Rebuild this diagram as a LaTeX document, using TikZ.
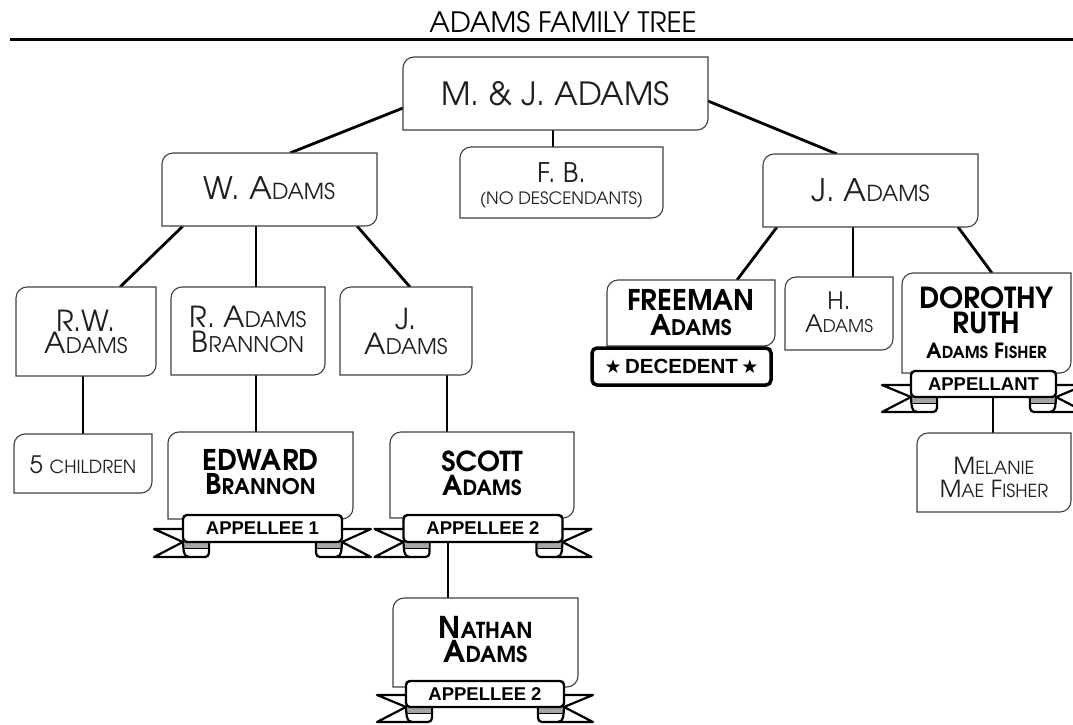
\documentclass[tikz,border=0pt]{standalone}
\usepackage{fontspec}
\newfontfamily\adv{texgyreadventor}[Extension=.otf,UprightFont=*-regular,BoldFont=*-bold]
\newfontfamily\lab{Liberation Sans}
\newfontfamily\dv{DejaVu Sans}
\usetikzlibrary{calc}
\pgfdeclarelayer{bg}\pgfdeclarelayer{mid}\pgfsetlayers{bg,mid,main}
\newcommand\fz[2]{\fontsize{#1}{#2}\selectfont}
\newcommand\sm[2]{{\fontsize{#1}{\baselineskip}\selectfont #2}}
\tikzset{
 boxn/.style={inner sep=0pt, outer sep=0pt},
 boxline/.style={draw=black!75, line width=1.1pt, fill=white},
 txt/.style={align=center, inner sep=0pt, text=black!88},
 btxt/.style={align=center, inner sep=0pt, text=black},
 conn/.style={line width=2.8pt, black},
 ban/.style={draw=black, line width=2.4pt, fill=white, rounded corners=4pt, inner sep=0pt, outer sep=0pt, font=\lab\bfseries\fz{18.5}{18.5}},
 wing/.style={draw=black, line width=2.2pt, fill=white, line join=round},
 fold/.style={draw=none, fill=black!35},
}
\newcommand\pbox[5]{\node[boxn, minimum width=#4pt, minimum height=#5pt] (#1) at (#2,-#3) {};
 \filldraw[boxline] (#1.south west) -- ([yshift=-11pt]#1.north west) arc[start angle=180, end angle=90, radius=11pt] -- (#1.north east) -- ([yshift=11pt]#1.south east) arc[start angle=0, end angle=-90, radius=11pt] -- cycle;}
\newcommand\wings[1]{\begin{pgfonlayer}{mid}
 \filldraw[wing] ([shift={(-29pt,-14pt)}]#1.north west) -- (#1.south west) -- ([shift={(-29pt,-15pt)}]#1.south west) -- ([shift={(22pt,-15pt)}]#1.south west) to[out=0,in=-90] ([shift={(26pt,-11pt)}]#1.south west) -- ([shift={(26pt,3pt)}]#1.south west) -- ([shift={(5pt,-14pt)}]#1.north west) -- cycle;
 \filldraw[wing] ([shift={(29pt,-14pt)}]#1.north east) -- (#1.south east) -- ([shift={(29pt,-15pt)}]#1.south east) -- ([shift={(-22pt,-15pt)}]#1.south east) to[out=180,in=-90] ([shift={(-26pt,-11pt)}]#1.south east) -- ([shift={(-26pt,3pt)}]#1.south east) -- ([shift={(-5pt,-14pt)}]#1.north east) -- cycle;
 \fill[fold] ([shift={(1pt,2pt)}]#1.south west) rectangle ([shift={(25pt,-6pt)}]#1.south west);
 \fill[fold] ([shift={(-1pt,2pt)}]#1.south east) rectangle ([shift={(-25pt,-6pt)}]#1.south east);
 \draw[wing,fill=none,line width=1pt] ([shift={(1pt,-6pt)}]#1.south west) -- ([shift={(25pt,-6pt)}]#1.south west);
 \draw[wing,fill=none,line width=1pt] ([shift={(-1pt,-6pt)}]#1.south east) -- ([shift={(-25pt,-6pt)}]#1.south east);
 \draw[wing,fill=none] (#1.south west) to[out=-85,in=180] ([shift={(6pt,-15pt)}]#1.south west);
 \draw[wing,fill=none] (#1.south east) to[out=-95,in=0] ([shift={(-6pt,-15pt)}]#1.south east);
 \end{pgfonlayer}}
\begin{document}
\begin{tikzpicture}[x=1pt,y=1pt]
\useasboundingbox (0,0) rectangle (1073,-725);
% title
\node[btxt, font=\adv\fz{28}{28}] (title) at (563,-22) {ADAMS FAMILY TREE};
\coordinate (r1) at (10,-40); \coordinate (r2) at (1073,-40);
\draw[line width=3pt] (r1) -- (r2);
% boxes
\pbox{mj}{555.5}{93.5}{305}{73}
\node[txt, font=\adv\fz{32}{32}] (mjT) at (555.5,-94) {M. \& J. ADAMS};
\pbox{w}{269.5}{189.5}{215}{73}
\node[txt, font=\adv\fz{31}{31}] (wT) at (269.5,-188.5) {W. A\sm{22}{DAMS}};
\pbox{fb}{561.5}{182.5}{203}{71}
\node[txt, font=\adv\fz{27}{22}] (fbT) at (561.5,-185.5) {F. B.\\\sm{17}{(NO DESCENDANTS)}};
\pbox{jr}{870.5}{190.5}{215}{73}
\node[txt, font=\adv\fz{31}{31}] (jrT) at (870.5,-190.5) {J. A\sm{22}{DAMS}};
\pbox{rw}{86}{331.5}{140}{89}
\node[txt, font=\adv\fz{29}{22.5}] (rwT) at (86,-332) {R.W.\\A\sm{21.5}{DAMS}};
\pbox{rb}{248}{331}{154}{88}
\node[txt, font=\adv\fz{29}{25}] (rbT) at (248,-329.5) {R. A\sm{21.5}{DAMS}\\B\sm{21.5}{RANNON}};
\pbox{jm}{406}{331}{132}{88}
\node[txt, font=\adv\fz{29}{25}] (jmT) at (406,-331) {J.\\A\sm{21.5}{DAMS}};
\pbox{cc}{83}{463.5}{138}{59}
\node[txt, font=\adv\fz{24}{24}] (ccT) at (83,-464.5) {5 \sm{18}{CHILDREN}};
\pbox{ed}{260.5}{475.5}{185}{87}
\node[btxt, font=\adv\bfseries\fz{28.5}{24}] (edT) at (260.5,-472.5) {EDWARD\\B\sm{21.5}{RANNON}};
\pbox{sc}{482}{475}{184}{86}
\node[btxt, font=\adv\bfseries\fz{27.5}{24}] (scT) at (482,-473) {SCOTT\\A\sm{21}{DAMS}};
\pbox{na}{485.5}{642.5}{185}{89}
\node[btxt, font=\adv\bfseries\fz{30}{24.5}] (naT) at (485.5,-639.5) {N\sm{22}{ATHAN}\\A\sm{22}{DAMS}};
\pbox{fr}{691}{313}{168}{66}
\node[btxt, font=\adv\bfseries\fz{28.5}{24.5}] (frT) at (691,-312.5) {FREEMAN\\A\sm{21.5}{DAMS}};
\pbox{h}{839}{313.5}{108}{73}
\node[txt, font=\adv\fz{24}{23}] (hT) at (839,-312.5) {H.\\A\sm{17.5}{DAMS}};
\pbox{do}{986.5}{323}{169}{100}
\node[btxt, font=\adv\bfseries\fz{29}{25}] (doT) at (986.5,-322.5) {DOROTHY\\RUTH\\\sm{21}{A\sm{16.5}{DAMS} F\sm{16.5}{ISHER}}};
\pbox{mel}{994}{472.5}{154}{79}
\node[txt, font=\adv\fz{23.5}{22.5}] (melT) at (994,-477.5) {M\sm{18}{ELANIE}\\M\sm{18}{AE} F\sm{18}{ISHER}};
% banners
\node[ban, minimum width=159pt, minimum height=27pt] (edB) at (262.5,-528.5) {APPELLEE 1};
\wings{edB}
\node[ban, minimum width=159pt, minimum height=27pt] (scB) at (483,-528.5) {APPELLEE 2};
\wings{scB}
\node[ban, minimum width=158pt, minimum height=26pt] (naB) at (485,-694) {APPELLEE 2};
\wings{naB}
\node[ban, minimum width=145pt, minimum height=26pt] (doB) at (983.5,-384) {APPELLANT};
\wings{doB}
\node[ban, line width=3.5pt, rounded corners=5pt, minimum width=179pt, minimum height=37pt, font=\lab\bfseries\fz{20.5}{20.5}] (dec) at (681.5,-366.5) {{\dv\fz{19}{19}★}\,DECEDENT\,{\dv\fz{19}{19}★}};
% connectors
\begin{pgfonlayer}{bg}
\draw[conn] ([xshift=20.5pt]w.north) -- ([yshift=-14.5pt]mj.west);
\draw[conn] ([xshift=-2.5pt]mj.south) -- ([xshift=-8.5pt]fb.north);
\draw[conn] ([yshift=-7.5pt]mj.east) -- ([xshift=-33.5pt]jr.north);
\draw[conn] ([xshift=-86.5pt]w.south) -- ([xshift=34pt]rw.north);
\draw[conn] ([xshift=-13.5pt]w.south) -- ([xshift=8pt]rb.north);
\draw[conn] ([xshift=87.5pt]w.south) -- ([xshift=4pt]jm.north);
\draw[conn] ([xshift=-3pt]rw.south) -- (cc.north);
\draw[conn] ([xshift=8pt]rb.south) -- ([xshift=-4.5pt]ed.north);
\draw[conn] ([xshift=41pt]jm.south) -- ([xshift=-35pt]sc.north);
\draw[conn] ([xshift=-35pt]scB.south) -- ([xshift=-37.5pt]na.north);
\draw[conn] ([xshift=-93.5pt]jr.south) -- ([xshift=46pt]fr.north);
\draw[conn] ([xshift=-17.5pt]jr.south) -- ([xshift=14pt]h.north);
\draw[conn] ([xshift=87.5pt]jr.south) -- ([xshift=5.5pt]do.north);
\draw[conn] ([xshift=9.5pt]doB.south) -- ([xshift=-1pt]mel.north);
\end{pgfonlayer}
\end{tikzpicture}
\end{document}
